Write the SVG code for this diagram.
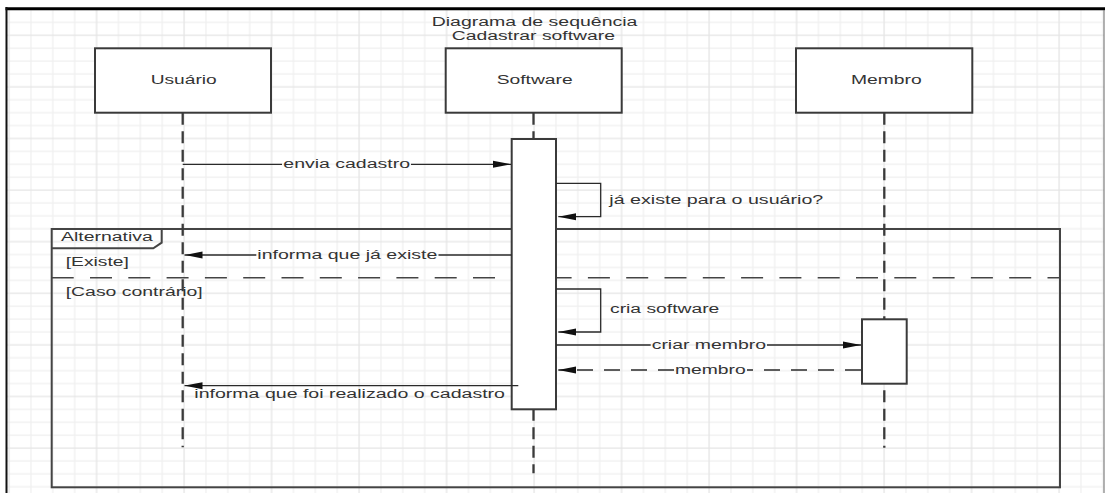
<svg xmlns="http://www.w3.org/2000/svg" width="1105" height="493" viewBox="0 0 1105 493">
  <style>
    .box { fill: #fff; stroke: #3a3a3a; stroke-width: 2; }
    .life { fill: none; stroke: #3a3a3a; stroke-width: 2.3; stroke-dasharray: 12 6.5; }
    .msg { fill: none; stroke: #2a2a2a; stroke-width: 1.3; }
    .ret { stroke-dasharray: 16 11; }
    .frame { fill: none; stroke: #444; stroke-width: 2; }
    .sep { fill: none; stroke: #444; stroke-width: 1.6; stroke-dasharray: 22 16.3; }
    text { font-family: "Liberation Sans", Arial, sans-serif; font-size: 12.5px; fill: #333; }
  </style>
  <defs>
    <!-- background grid: minor cells with a slightly darker line every fourth cell -->
    <pattern id="grid" patternUnits="userSpaceOnUse" x="4.1" y="4.4" width="87.5" height="51.6">
      <path d="M26.875,0V51.6M48.75,0V51.6M70.625,0V51.6M0,5H87.5M0,17.9H87.5M0,43.7H87.5" stroke="#f0f0f0" stroke-width="1.3"/>
      <path d="M5,0V51.6M0,30.8H87.5" stroke="#e5e5e5" stroke-width="1.3"/>
    </pattern>
    <marker id="ah" markerUnits="userSpaceOnUse" markerWidth="18" markerHeight="8" refX="18" refY="4" orient="auto">
      <path d="M0,0.5 L18,4 L0,7.5 Z" fill="#111"/>
    </marker>
  </defs>

  <!-- canvas -->
  <rect x="0" y="0" width="1105" height="493" fill="#fff"/>
  <rect x="7" y="10" width="1097" height="483" fill="url(#grid)"/>
  <path d="M5.5,8.7 H1105" stroke="#000" stroke-width="3"/>
  <path d="M6.5,7 V493" stroke="#111" stroke-width="2"/>
  <path d="M1104,10 V493" stroke="#666" stroke-width="1"/>

  <!-- title -->
  <g id="title">
    <text x="431.7" y="25.5" textLength="205.7" lengthAdjust="spacingAndGlyphs">Diagrama de sequência</text>
    <text x="451.7" y="39.5" textLength="163.3" lengthAdjust="spacingAndGlyphs">Cadastrar software</text>
  </g>

  <!-- alt fragment -->
  <g id="alt">
    <rect class="frame" x="51.7" y="229" width="1008.3" height="258.3"/>
    <path class="frame" d="M51.7,248.3 H153.3 L161.7,242.7 V229"/>
    <path class="sep" d="M51.7,277.7 H1060"/>
    <text x="61" y="240.7" textLength="91.7" lengthAdjust="spacingAndGlyphs">Alternativa</text>
    <text x="65.7" y="265.7" textLength="63.3" lengthAdjust="spacingAndGlyphs">[Existe]</text>
    <text x="65.7" y="296" textLength="137" lengthAdjust="spacingAndGlyphs">[Caso contrário]</text>
  </g>

  <!-- participants -->
  <g id="usuario">
    <path class="life" d="M182.7,112.7 V447.3"/>
    <rect class="box" x="95" y="48.3" width="176" height="64.4"/>
    <text x="150.7" y="84.3" textLength="66" lengthAdjust="spacingAndGlyphs">Usuário</text>
  </g>
  <g id="software">
    <path class="life" d="M533.5,112.7 V473.3"/>
    <rect class="box" x="445.7" y="48.3" width="176" height="64.4"/>
    <text x="496.7" y="84.3" textLength="76" lengthAdjust="spacingAndGlyphs">Software</text>
    <rect class="box" x="511.7" y="139" width="44.3" height="270.3"/>
  </g>
  <g id="membro">
    <path class="life" d="M884.3,112.7 V447.7"/>
    <rect class="box" x="796" y="48.3" width="176.3" height="64.4"/>
    <text x="851" y="84.3" textLength="70.7" lengthAdjust="spacingAndGlyphs">Membro</text>
    <rect class="box" x="862" y="319.3" width="44.7" height="64.4"/>
  </g>

  <!-- messages -->
  <g id="connectors">
    <path class="msg" d="M182.7,164.3 H282"/>
    <path class="msg" d="M411,164.3 H511" marker-end="url(#ah)"/>
    <text x="283.3" y="168" textLength="126.7" lengthAdjust="spacingAndGlyphs">envia cadastro</text>

    <path class="msg" d="M556,183.3 H600.7 V216.7 H558.3" marker-end="url(#ah)"/>
    <text x="609.3" y="204" textLength="214" lengthAdjust="spacingAndGlyphs">já existe para o usuário?</text>

    <path class="msg" d="M511.7,255 H438.5"/>
    <path class="msg" d="M256.3,255 H184.5" marker-end="url(#ah)"/>
    <text x="257.3" y="258.7" textLength="180" lengthAdjust="spacingAndGlyphs">informa que já existe</text>

    <path class="msg" d="M556,289 H600.7 V332 H558.3" marker-end="url(#ah)"/>
    <text x="610" y="313.3" textLength="109.3" lengthAdjust="spacingAndGlyphs">cria software</text>

    <path class="msg" d="M556,345 H650.7"/>
    <path class="msg" d="M767,345 H861" marker-end="url(#ah)"/>
    <text x="651.7" y="348.7" textLength="114.3" lengthAdjust="spacingAndGlyphs">criar membro</text>

    <path class="msg ret" d="M861,370 H747"/>
    <path class="msg ret" d="M674,370 H558.3" marker-end="url(#ah)"/>
    <text x="675" y="373.7" textLength="70.7" lengthAdjust="spacingAndGlyphs">membro</text>

    <path class="msg" d="M518.3,385.7 H184.5" marker-end="url(#ah)"/>
    <text x="194.3" y="397.7" textLength="310.7" lengthAdjust="spacingAndGlyphs">informa que foi realizado o cadastro</text>
  </g>
</svg>
